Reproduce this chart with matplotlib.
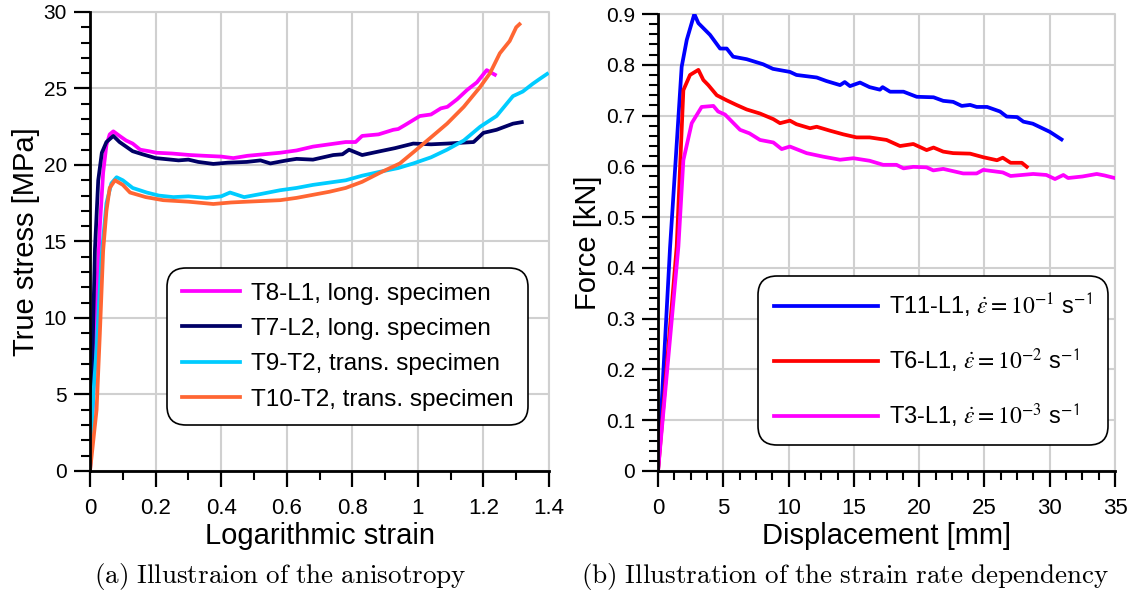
import matplotlib.pyplot as plt
import numpy as np
from matplotlib.ticker import MultipleLocator
from matplotlib.font_manager import FontProperties

# (a) true stress vs logarithmic strain
t8_x = [0, 0.01, 0.02, 0.03, 0.04, 0.05, 0.06, 0.071, 0.09, 0.11, 0.13, 0.153, 0.18, 0.203, 0.25, 0.305, 0.35, 0.4, 0.437, 0.48,
        0.53, 0.58, 0.63, 0.68, 0.73, 0.78, 0.81, 0.83, 0.88, 0.925, 0.94, 0.96, 1.006, 1.04, 1.07, 1.09, 1.12, 1.15, 1.18, 1.21, 1.235]
t8_y = [0, 5, 11, 16, 19.5, 21.3, 22.0, 22.2, 21.9, 21.6, 21.4, 21.0, 20.9, 20.8, 20.75, 20.65, 20.6, 20.55, 20.45, 20.6,
        20.7, 20.8, 20.95, 21.2, 21.35, 21.5, 21.5, 21.9, 22.0, 22.3, 22.35, 22.6, 23.2, 23.3, 23.7, 23.8, 24.3, 24.9, 25.4, 26.2, 25.9]
t7_x = [0, 0.005, 0.01, 0.015, 0.025, 0.036, 0.05, 0.071, 0.09, 0.13, 0.16, 0.2, 0.27, 0.3, 0.33, 0.376, 0.42, 0.478, 0.52, 0.55,
        0.6, 0.63, 0.68, 0.742, 0.77, 0.79, 0.83, 0.885, 0.93, 0.986, 1.04, 1.089, 1.13, 1.17, 1.2, 1.24, 1.29, 1.317]
t7_y = [0, 5, 10, 14.5, 19, 20.8, 21.5, 21.9, 21.5, 20.9, 20.7, 20.45, 20.3, 20.35, 20.2, 20.07, 20.15, 20.2, 20.3, 20.1,
        20.3, 20.4, 20.35, 20.65, 20.7, 21.0, 20.65, 20.9, 21.1, 21.4, 21.35, 21.4, 21.45, 21.5, 22.1, 22.3, 22.7, 22.8]
t9_x = [0, 0.01, 0.02, 0.035, 0.05, 0.065, 0.081, 0.1, 0.13, 0.173, 0.21, 0.254, 0.3, 0.356, 0.4, 0.427, 0.47, 0.52, 0.58, 0.63,
        0.68, 0.73, 0.78, 0.83, 0.885, 0.94, 0.986, 1.04, 1.089, 1.14, 1.19, 1.24, 1.29, 1.32, 1.35, 1.37, 1.394]
t9_y = [0, 5, 8, 14, 17.5, 18.8, 19.2, 19.0, 18.5, 18.2, 18.0, 17.9, 17.95, 17.85, 17.95, 18.2, 17.9, 18.1, 18.35, 18.5,
        18.7, 18.85, 19.0, 19.3, 19.56, 19.8, 20.1, 20.5, 21.0, 21.6, 22.5, 23.2, 24.5, 24.8, 25.3, 25.6, 25.95]
t10_x = [0, 0.02, 0.03, 0.04, 0.05, 0.06, 0.076, 0.1, 0.122, 0.17, 0.223, 0.3, 0.376, 0.43, 0.478, 0.53, 0.58, 0.63, 0.68, 0.73,
         0.78, 0.83, 0.885, 0.945, 0.99, 1.037, 1.089, 1.14, 1.19, 1.22, 1.25, 1.28, 1.30, 1.31]
t10_y = [0, 4, 9, 14.4, 17, 18.5, 19.0, 18.7, 18.2, 17.9, 17.7, 17.6, 17.45, 17.55, 17.6, 17.65, 17.7, 17.85, 18.05, 18.25,
         18.5, 18.9, 19.5, 20.1, 20.9, 21.75, 22.7, 23.8, 25.1, 26.0, 27.3, 28.1, 29.0, 29.2]

# (b) force vs displacement
t11_x = [0, 0.92, 1.81, 2.2, 2.78, 3.09, 3.98, 4.75, 5.26, 5.75, 6.79, 8.05, 8.8, 10.1, 10.6, 12.15, 12.9, 13.94, 14.3, 14.7,
         15.47, 16.2, 16.99, 17.2, 17.77, 18.8, 19.81, 21.1, 21.84, 22.6, 23.26, 23.9, 24.4, 25.2, 26.19, 26.7, 27.5, 27.98, 28.7, 30.0, 30.9]
t11_y = [0, 0.44, 0.796, 0.849, 0.9, 0.882, 0.859, 0.832, 0.832, 0.816, 0.811, 0.801, 0.792, 0.786, 0.78, 0.775, 0.768, 0.76, 0.766, 0.758,
         0.765, 0.756, 0.751, 0.756, 0.747, 0.747, 0.737, 0.736, 0.729, 0.727, 0.719, 0.721, 0.717, 0.717, 0.708, 0.698, 0.697, 0.688, 0.684, 0.668, 0.653]
t6_x = [0, 1.43, 1.94, 2.45, 3.09, 3.47, 3.85, 4.5, 5.26, 6.0, 6.79, 7.81, 8.83, 9.34, 10.1, 10.6, 11.64, 12.15, 13.2, 14.19,
        15.2, 16.2, 17.5, 18.53, 19.55, 20.57, 21.1, 21.84, 22.6, 23.9, 24.9, 25.96, 26.4, 27.0, 27.86, 28.24]
t6_y = [0, 0.442, 0.75, 0.78, 0.79, 0.77, 0.76, 0.74, 0.73, 0.721, 0.712, 0.704, 0.693, 0.685, 0.69, 0.683, 0.675, 0.678, 0.67, 0.663,
        0.657, 0.657, 0.652, 0.64, 0.644, 0.632, 0.637, 0.629, 0.626, 0.625, 0.618, 0.612, 0.617, 0.607, 0.607, 0.599]
t3_x = [0, 1.56, 1.94, 2.58, 3.34, 4.24, 4.6, 5.13, 6.28, 7.0, 7.81, 8.83, 9.47, 10.1, 11.38, 12.66, 13.94, 14.96, 16.2, 17.24,
        18.26, 18.8, 19.55, 20.57, 21.08, 21.84, 23.37, 24.4, 24.9, 26.4, 27.0, 28.73, 29.74, 30.4, 31.04, 31.4, 32.5, 33.6, 34.2, 34.97]
t3_y = [0, 0.442, 0.612, 0.685, 0.717, 0.719, 0.708, 0.702, 0.672, 0.665, 0.652, 0.647, 0.634, 0.639, 0.626, 0.619, 0.613, 0.616, 0.611, 0.603,
        0.603, 0.596, 0.599, 0.598, 0.592, 0.595, 0.586, 0.586, 0.593, 0.588, 0.581, 0.585, 0.583, 0.575, 0.583, 0.577, 0.58, 0.585, 0.582, 0.577]

plt.rcParams['font.family'] = ['Liberation Sans', 'DejaVu Sans']

fig = plt.figure(figsize=(11.44, 5.99), dpi=100)
ax1 = fig.add_axes([0.0787, 0.2137, 0.4012, 0.7663])
ax2 = fig.add_axes([0.5752, 0.2137, 0.3995, 0.7629])

lw = 2.7
ax1.plot(t8_x, t8_y, color='#ff00ff', lw=lw, label='T8-L1, long. specimen')
ax1.plot(t7_x, t7_y, color='#000066', lw=lw, label='T7-L2, long. specimen')
ax1.plot(t9_x, t9_y, color='#00ccff', lw=lw, label='T9-T2, trans. specimen')
ax1.plot(t10_x, t10_y, color='#ff6633', lw=lw, label='T10-T2, trans. specimen')

ax2.plot(t11_x, t11_y, color='#0000ff', lw=lw, label=r'T11-L1, $\dot{\varepsilon} = 10^{-1}$ s$^{\mathsf{-1}}$')
ax2.plot(t6_x, t6_y, color='#ff0000', lw=lw, label=r'T6-L1, $\dot{\varepsilon} = 10^{-2}$ s$^{\mathsf{-1}}$')
ax2.plot(t3_x, t3_y, color='#ff00ff', lw=lw, label=r'T3-L1, $\dot{\varepsilon} = 10^{-3}$ s$^{\mathsf{-1}}$')

ax1.set_xlim(0, 1.4)
ax1.set_ylim(0, 30)
ax1.set_xticks(np.arange(0, 1.41, 0.2))
ax1.set_xticklabels(['0', '0.2', '0.4', '0.6', '0.8', '1', '1.2', '1.4'])
ax1.xaxis.set_minor_locator(MultipleLocator(0.1))
ax1.yaxis.set_major_locator(MultipleLocator(5))
ax1.yaxis.set_minor_locator(MultipleLocator(1))

ax2.set_xlim(0, 35)
ax2.set_ylim(0, 0.9)
ax2.xaxis.set_major_locator(MultipleLocator(5))
ax2.xaxis.set_minor_locator(MultipleLocator(1.25))
ax2.set_yticks(np.arange(0, 0.91, 0.1))
ax2.set_yticklabels(['0', '0.1', '0.2', '0.3', '0.4', '0.5', '0.6', '0.7', '0.8', '0.9'])
ax2.yaxis.set_minor_locator(MultipleLocator(0.02))

for ax in (ax1, ax2):
    ax.grid(True, which='major', color='#d0d0d0', lw=1.5)
    ax.set_axisbelow(True)
    for s in ('top', 'right'):
        ax.spines[s].set_visible(False)
    for s in ('left', 'bottom'):
        ax.spines[s].set_linewidth(2)
    ax.tick_params(which='major', direction='out', length=11.5, width=1.6)
    ax.tick_params(which='minor', direction='out', length=6.5, width=1.5)
    ax.tick_params(axis='x', which='major', labelsize=16, pad=8)
    ax.tick_params(axis='y', which='major', labelsize=15, pad=5)
    ax.plot([0, 1, 1], [1, 1, 0], transform=ax.transAxes, color='#d0d0d0', lw=1.5, clip_on=False, zorder=0)

ax1.set_xlabel('Logarithmic strain', fontsize=21, labelpad=2)
ax1.set_ylabel('True stress [MPa]', fontsize=21, labelpad=3)
ax2.set_xlabel('Displacement [mm]', fontsize=21, labelpad=2)
ax2.set_ylabel('Force [kN]', fontsize=21, labelpad=3)

leg1 = ax1.legend(loc='center', bbox_to_anchor=(0.561, 0.271), fontsize=17.5, handlelength=2.4,
                  handletextpad=0.45, labelspacing=0.55, framealpha=1, edgecolor='black', borderpad=0.5)
leg1.get_frame().set_boxstyle('round,pad=0.1,rounding_size=0.8')
leg1.get_frame().set_linewidth(1.2)

fp = FontProperties(family='Liberation Sans', size=17, math_fontfamily='stix')
leg2 = ax2.legend(loc='center', bbox_to_anchor=(0.602, 0.242), prop=fp, handlelength=4.4,
                  handletextpad=0.5, labelspacing=1.15, framealpha=1, edgecolor='black', borderpad=0.55)
leg2.get_frame().set_boxstyle('round,pad=0.1,rounding_size=0.8')
leg2.get_frame().set_linewidth(1.2)

fig.text(0.245, 0.037, r'$\mathrm{(a)\ Illustraion\ of\ the\ anisotropy}$', ha='center', va='center',
         fontsize=19.5, math_fontfamily='cm')
fig.text(0.739, 0.037, r'$\mathrm{(b)\ Illustration\ of\ the\ strain\ rate\ dependency}$', ha='center', va='center',
         fontsize=19.5, math_fontfamily='cm')

fig.savefig('out.png', dpi=100)
